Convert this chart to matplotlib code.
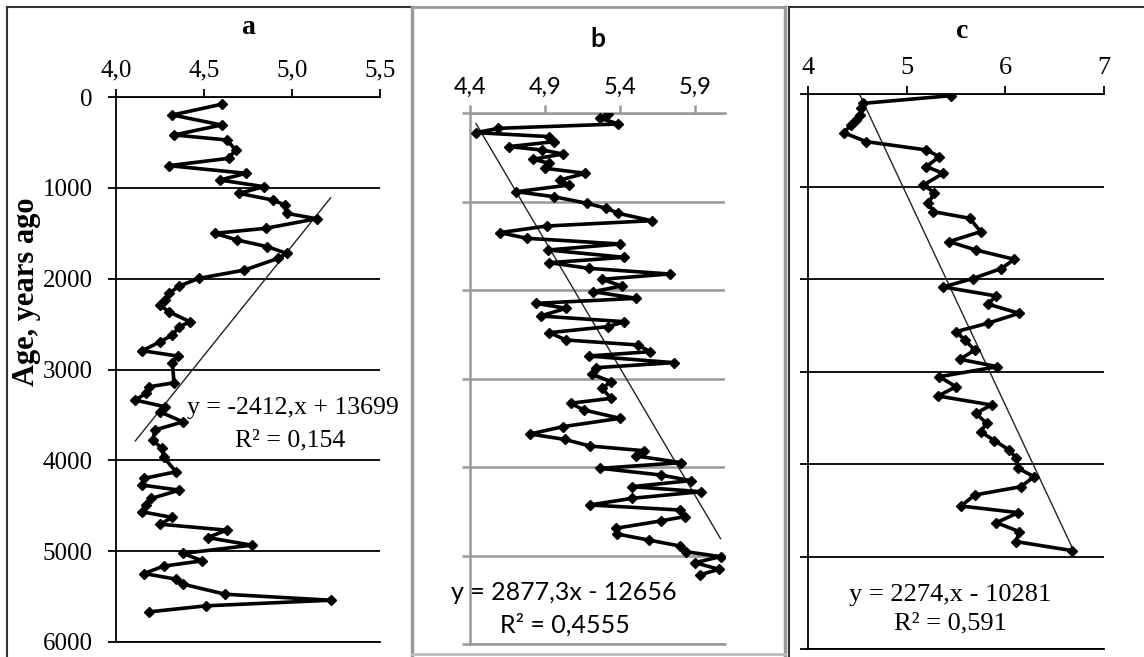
import matplotlib
matplotlib.use("Agg")
import matplotlib.pyplot as plt
from matplotlib.lines import Line2D
import numpy as np

# --- data ------------------------------------------------------------------
a_vals = [4.60, 4.32, 4.60, 4.33, 4.63, 4.68, 4.64, 4.30, 4.74, 4.59, 4.84, 4.70,
          4.89, 4.96, 4.97, 5.14, 4.85, 4.56, 4.69, 4.86, 4.97, 4.92, 4.73, 4.47,
          4.36, 4.30, 4.28, 4.25, 4.30, 4.42, 4.36, 4.32, 4.25, 4.15, 4.35, 4.32,
          4.33, 4.19, 4.17, 4.11, 4.28, 4.25, 4.38, 4.22, 4.21, 4.26, 4.27, 4.34,
          4.16, 4.15, 4.36, 4.20, 4.17, 4.15, 4.32, 4.25, 4.63, 4.52, 4.77, 4.38,
          4.49, 4.27, 4.16, 4.34, 4.38, 4.62, 5.22, 4.51, 4.19]
a_age = [80, 198, 308, 418, 473, 584, 675, 756, 840, 914, 987, 1061,
         1134, 1189, 1281, 1340, 1446, 1501, 1575, 1648, 1722, 1777, 1905, 1997,
         2081, 2162, 2236, 2291, 2364, 2474, 2529, 2621, 2695, 2793, 2852, 2933,
         3146, 3190, 3263, 3337, 3411, 3466, 3576, 3667, 3777, 3869, 3961, 4126,
         4199, 4273, 4328, 4420, 4493, 4567, 4629, 4703, 4769, 4850, 4934, 5025,
         5106, 5165, 5246, 5308, 5363, 5474, 5540, 5602, 5668]

b_vals = [5.32, 5.27, 5.39, 4.59, 4.44, 4.93, 4.96, 4.66, 4.88, 5.02,
          4.82, 4.93, 4.90, 5.17, 5.00, 5.06, 4.71, 4.96, 5.18, 5.31,
          5.39, 5.61, 4.91, 4.60, 4.78, 5.40, 4.92, 5.43, 4.93, 5.19,
          5.73, 5.28, 5.41, 5.22, 5.51, 4.84, 5.04, 4.87, 5.43, 5.32,
          4.93, 5.04, 5.52, 5.60, 5.19, 5.76, 5.24, 5.21, 5.34, 5.28,
          5.34, 5.07, 5.16, 5.40, 5.02, 4.80, 5.03, 5.20, 5.56, 5.51,
          5.81, 5.27, 5.67, 5.87, 5.48, 5.94, 5.48, 5.20, 5.80, 5.83,
          5.67, 5.37, 5.38, 5.59, 5.80, 5.84, 6.07, 5.90, 6.06, 5.93]
b_age = [11, 60, 124, 173, 222, 267, 324, 380, 418, 463,
         523, 569, 625, 681, 757, 814, 889, 946, 1021, 1077,
         1134, 1217, 1277, 1352, 1416, 1480, 1548, 1631, 1691, 1755,
         1819, 1879, 1955, 2019, 2094, 2151, 2207, 2294, 2358, 2414,
         2482, 2565, 2621, 2697, 2746, 2821, 2878, 2949, 3036, 3111,
         3224, 3280, 3356, 3450, 3544, 3627, 3688, 3763, 3816, 3876,
         3951, 4015, 4090, 4154, 4222, 4279, 4354, 4429, 4486, 4561,
         4610, 4693, 4757, 4825, 4893, 4957, 5013, 5081, 5156, 5220]

c_vals = [5.45, 4.56, 4.54, 4.53, 4.49, 4.44, 4.36, 4.59, 5.20, 5.33,
          5.20, 5.37, 5.17, 5.28, 5.22, 5.27, 5.64, 5.75, 5.43, 5.70,
          6.09, 5.96, 5.67, 5.37, 5.91, 5.82, 6.14, 5.82, 5.50, 5.59,
          5.69, 5.54, 5.92, 5.33, 5.50, 5.32, 5.86, 5.70, 5.81, 5.75,
          5.89, 6.04, 6.11, 6.13, 6.29, 6.16, 5.69, 5.55, 6.13, 5.91,
          6.14, 6.11, 6.68]
c_age = [18, 101, 155, 227, 281, 335, 418, 515, 605, 677,
         786, 857, 984, 1067, 1182, 1272, 1344, 1488, 1596, 1686,
         1787, 1887, 1995, 2086, 2184, 2270, 2371, 2479, 2569, 2659,
         2768, 2868, 2948, 3056, 3164, 3265, 3362, 3452, 3560, 3650,
         3747, 3849, 3939, 4046, 4137, 4245, 4335, 4454, 4526, 4634,
         4731, 4839, 4937]

# linear trends as printed on the chart
a_slope, a_icpt = -2412, 13699
b_slope, b_icpt = 2877.3, -12656
c_slope, c_icpt = 2274, -10281

a_xticks = [4.0, 4.5, 5.0, 5.5]
a_xlabels = ["4,0", "4,5", "5,0", "5,5"]
b_xticks = [4.4, 4.9, 5.4, 5.9]
b_xlabels = ["4,4", "4,9", "5,4", "5,9"]
c_xticks = [4, 5, 6, 7]
c_xlabels = ["4", "5", "6", "7"]
age_ticks = [0, 1000, 2000, 3000, 4000, 5000, 6000]

W, H = 1144, 657
fig = plt.figure(figsize=(W / 100, H / 100), dpi=100)
fig.patch.set_facecolor("white")

SERIF = "Liberation Serif"
SANS = "Lato"


def box(l, t, r, b):
    return [l / W, 1 - b / H, (r - l) / W, (b - t) / H]


def fx(x):
    return x / W


def fy(y):
    return 1 - y / H


def panel(rect, vals, age, slope, icpt, xlim, xt, xl, color, font, labsize,
          gw=1.3):
    ax = fig.add_axes(rect)
    ax.set_xlim(*xlim)
    ax.set_ylim(6000, 0)
    ax.xaxis.tick_top()
    ax.set_xticks(xt)
    ax.set_xticklabels(xl, fontfamily=font, fontsize=labsize)
    ax.set_yticks(age_ticks)
    ax.yaxis.grid(True, color=color, lw=gw)
    ax.tick_params(axis="both", direction="out", color=color, width=gw,
                   length=6, pad=5)
    for s in ["left", "top", "bottom"]:
        ax.spines[s].set_color(color)
        ax.spines[s].set_linewidth(gw)
    ax.spines["right"].set_visible(False)
    ax.set_axisbelow(True)

    xs = np.array([min(vals), max(vals)])
    ax.plot(xs, slope * xs + icpt, color="#222222", lw=1.0, zorder=2)
    ax.plot(vals, age, color="black", lw=2.6, marker="D", ms=5, zorder=3)
    return ax


ax_a = panel(box(116, 97, 380, 642), a_vals, a_age, a_slope, a_icpt,
             (4.0, 5.5), a_xticks, a_xlabels, "black", SERIF, 18)
ax_a.set_yticklabels([str(v) for v in age_ticks], fontfamily=SERIF, fontsize=18)
ax_a.tick_params(axis="y", pad=11)

ax_b = panel(box(470, 113, 725, 644), b_vals, b_age, b_slope, b_icpt,
             (4.4, 6.1), b_xticks, b_xlabels, "#999999", SANS, 17, gw=1.8)
ax_b.set_yticklabels([])

ax_c = panel(box(808, 94, 1104, 649), c_vals, c_age, c_slope, c_icpt,
             (4, 7), c_xticks, c_xlabels, "black", SERIF, 19)
ax_c.set_yticklabels([])

# panel titles and axis label
fig.text(fx(248), fy(27), "a", fontfamily=SERIF, fontweight="bold",
         fontsize=20, ha="center", va="center")
fig.text(fx(598), fy(39), "b", fontfamily=SANS, fontweight="bold",
         fontsize=19, ha="center", va="center")
fig.text(fx(962), fy(32), "c", fontfamily=SERIF, fontweight="bold",
         fontsize=20, ha="center", va="center")
fig.text(fx(27), fy(292), "Age, years ago", fontfamily=SERIF,
         fontweight="bold", fontsize=22, rotation=90, ha="center", va="center")

# trend equations
fig.text(fx(187), fy(408), "y = -2412,x + 13699", fontfamily=SERIF,
         fontsize=18.5, ha="left", va="center")
fig.text(fx(290), fy(440), "R² = 0,154", fontfamily=SERIF,
         fontsize=18.5, ha="center", va="center")
fig.text(fx(564), fy(593), "y = 2877,3x - 12656", fontfamily=SANS,
         fontsize=18, ha="center", va="center")
fig.text(fx(565), fy(625), "R² = 0,4555", fontfamily=SANS,
         fontsize=18, ha="center", va="center")
fig.text(fx(950), fy(595), "y = 2274,x - 10281", fontfamily=SERIF,
         fontsize=19, ha="center", va="center")
fig.text(fx(950), fy(623), "R² = 0,591", fontfamily=SERIF,
         fontsize=19, ha="center", va="center")

# frames around the three pictures
frame = [
    ((7, 7), (7, 657), "#333333", 1.5),
    ((7, 411), (7, 7), "#333333", 1.5),
    ((412, 412), (7, 657), "#999999", 2.5),
    ((412, 785), (7, 7), "#999999", 2.0),
    ((785, 785), (7, 657), "#999999", 2.5),
    ((412, 785), (654, 654), "#bbbbbb", 2.0),
    ((789, 789), (7, 657), "#333333", 1.5),
    ((789, 1144), (7, 7), "#333333", 1.5),
]
for xs, ys, col, lw in frame:
    fig.add_artist(Line2D([fx(v) for v in xs], [fy(v) for v in ys],
                          color=col, lw=lw))

fig.savefig("out.png", dpi=100)
